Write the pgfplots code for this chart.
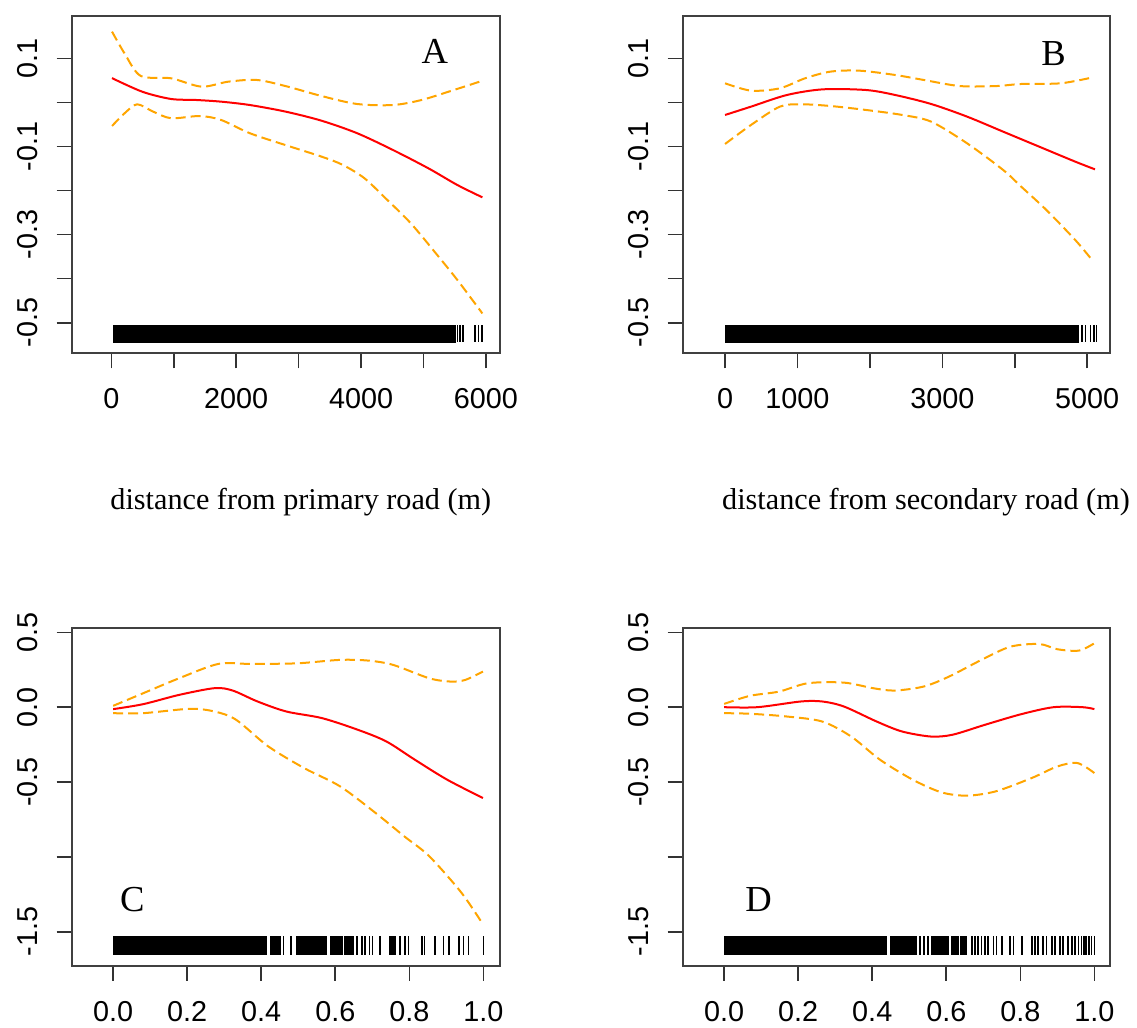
\documentclass[border=0pt]{standalone}
\usepackage{fontspec}
\setmainfont{Liberation Sans}
\newfontfamily\seriffont{Liberation Serif}
\usepackage{pgfplots}
\pgfplotsset{compat=1.18}

\definecolor{fitred}{RGB}{255,0,0}
\definecolor{bandor}{RGB}{255,165,0}

\tikzset{letter/.style={font=\seriffont\fontsize{18.3}{20}\selectfont}}

\pgfplotsset{
  gampanel/.style={
    scale only axis,
    axis line style={black!75, line width=0.9pt},
    tick align=outside,
    major tick length=7.5pt,
    tick style={black!80, line width=0.8pt},
    xtick pos=left, ytick pos=left,
    tick label style={font=\fontsize{14.4}{16}\selectfont},
    xticklabel style={anchor=north, inner sep=0pt},
    yticklabel style={rotate=90, anchor=south, inner sep=0pt},
    xticklabel shift=10pt,
    yticklabel shift=9.2pt,
    xlabel style={font=\seriffont\fontsize{15.1}{18}\selectfont, anchor=center},
  },
  fit/.style={fitred, line width=1pt, smooth},
  band/.style={bandor, line width=1pt, dash pattern=on 5pt off 2.5pt, smooth},
  rugA/.style={only marks, mark=|, mark size=4.2pt, mark options={black, line width=0.8pt}},
  rugC/.style={only marks, mark=|, mark size=4.6pt, mark options={black, line width=0.8pt}},
  rugblk/.style={fill=black, draw=black, line width=0.4pt},
}

\begin{document}
\begin{tikzpicture}
\path[use as bounding box] (0,0) rectangle (568.5pt,514pt);

% A: primary road
\begin{axis}[gampanel,
  at={(35.85pt,337.35pt)}, anchor=south west,
  width=214.15pt, height=168.8pt,
  xmin=-635, xmax=6225, ymin=-0.5694, ymax=0.1967,
  xtick={0,1000,2000,3000,4000,5000,6000},
  xticklabels={0,,2000,,4000,,6000},
  ytick={-0.5,-0.4,-0.3,-0.2,-0.1,0,0.1},
  yticklabels={-0.5,,-0.3,,-0.1,,0.1},
  xlabel={distance from primary road (m)},
  xlabel style={at={(axis description cs:0.535,-0.4405)}},
]
\addplot[band] coordinates {
  (11,0.1605) (212,0.111) (470,0.060) (957,0.0546) (1444,0.0357) (1874,0.047)
  (2332,0.0508) (2791,0.037) (3364,0.0145) (3937,-0.0037) (4510,-0.006)
  (4968,0.0054) (5484,0.028) (5943,0.049)
};
\addplot[band] coordinates {
  (11,-0.0536) (212,-0.0248) (413,-0.0044) (670,-0.021) (957,-0.036) (1415,-0.031)
  (1759,-0.040) (2218,-0.070) (2791,-0.097) (3364,-0.123) (3708,-0.142)
  (4052,-0.172) (4395,-0.218) (4797,-0.2745) (5198,-0.3426) (5542,-0.403) (5943,-0.479)
};
\addplot[fit] coordinates {
  (11,0.055) (499,0.024) (957,0.0077) (1358,0.0054) (1759,0.0016) (2218,-0.006)
  (2791,-0.021) (3364,-0.0415) (3937,-0.070) (4510,-0.108) (5083,-0.150)
  (5542,-0.1875) (5943,-0.2155)
};
\addplot[rugblk] coordinates {(30,-0.5058) (5509,-0.5058) (5509,-0.5437) (30,-0.5437)} -- cycle;
\addplot[rugA] coordinates {
  (5546,-0.5248) (5589,-0.5248) (5632,-0.5248) (5829,-0.5248) (5882,-0.5248) (5936,-0.5248)
};
\node[letter] at (axis cs:5182,0.115) {A};
\end{axis}

% B: secondary road
\begin{axis}[gampanel,
  at={(341.35pt,337.35pt)}, anchor=south west,
  width=213.8pt, height=168.8pt,
  xmin=-585, xmax=5320, ymin=-0.5694, ymax=0.1967,
  xtick={0,1000,2000,3000,4000,5000},
  xticklabels={0,1000,,3000,,5000},
  ytick={-0.5,-0.4,-0.3,-0.2,-0.1,0,0.1},
  yticklabels={-0.5,,-0.3,,-0.1,,0.1},
  xlabel={distance from secondary road (m)},
  xlabel style={at={(axis description cs:0.569,-0.4405)}},
]
\addplot[band] coordinates {
  (0,0.0433) (358,0.0266) (756,0.0319) (1104,0.0546) (1453,0.0697) (1851,0.072)
  (2348,0.0622) (2746,0.0508) (3244,0.037) (3741,0.037) (4090,0.0417)
  (4637,0.0433) (5085,0.057)
};
\addplot[band] coordinates {
  (0,-0.0944) (358,-0.0513) (756,-0.0097) (1055,-0.0044) (1453,-0.0082)
  (1950,-0.0173) (2448,-0.0286) (2846,-0.0438) (3343,-0.093) (3841,-0.1535)
  (4090,-0.1913) (4438,-0.2443) (4836,-0.3123) (5060,-0.356)
};
\addplot[fit] coordinates {
  (0,-0.0286) (358,-0.0097) (856,0.0168) (1353,0.0296) (1950,0.028) (2348,0.0168)
  (2846,-0.0037) (3343,-0.0324) (3841,-0.0665) (4338,-0.1005) (4836,-0.1345) (5109,-0.152)
};
\addplot[rugblk] coordinates {(0,-0.5058) (4885,-0.5058) (4885,-0.5437) (0,-0.5437)} -- cycle;
\addplot[rugA] coordinates {
  (4931,-0.5248) (4976,-0.5248) (5046,-0.5248) (5093,-0.5248) (5129,-0.5248)
};
\node[letter] at (axis cs:4538,0.111) {B};
\end{axis}

% C
\begin{axis}[gampanel,
  at={(35.85pt,31pt)}, anchor=south west,
  width=214.15pt, height=168.85pt,
  xmin=-0.112, xmax=1.045, ymin=-1.729, ymax=0.527,
  xtick={0,0.2,0.4,0.6,0.8,1},
  xticklabels={0.0,0.2,0.4,0.6,0.8,1.0},
  ytick={-1.5,-1,-0.5,0,0.5},
  yticklabels={-1.5,,-0.5,0.0,0.5},
]
\addplot[band] coordinates {
  (0,0.009) (0.081,0.093) (0.178,0.193) (0.284,0.289) (0.371,0.289) (0.497,0.293)
  (0.613,0.316) (0.690,0.311) (0.757,0.282) (0.854,0.193) (0.912,0.171)
  (0.951,0.182) (0.999,0.238)
};
\addplot[band] coordinates {
  (0,-0.04) (0.081,-0.04) (0.207,-0.011) (0.274,-0.029) (0.332,-0.084) (0.419,-0.262)
  (0.516,-0.407) (0.613,-0.529) (0.709,-0.707) (0.786,-0.862) (0.854,-0.996)
  (0.941,-1.24) (0.999,-1.451)
};
\addplot[fit] coordinates {
  (0,-0.013) (0.081,0.02) (0.178,0.082) (0.274,0.127) (0.323,0.111) (0.390,0.038)
  (0.468,-0.029) (0.564,-0.073) (0.661,-0.151) (0.738,-0.229) (0.815,-0.351)
  (0.902,-0.484) (0.999,-0.607)
};
\addplot[rugblk] coordinates {(0,-1.530) (0.415,-1.530) (0.415,-1.652) (0,-1.652)} -- cycle;
\addplot[rugblk] coordinates {(0.424,-1.530) (0.446,-1.530) (0.446,-1.652) (0.424,-1.652)} -- cycle;
\addplot[rugblk] coordinates {(0.494,-1.530) (0.575,-1.530) (0.575,-1.652) (0.494,-1.652)} -- cycle;
\addplot[rugblk] coordinates {(0.588,-1.530) (0.620,-1.530) (0.620,-1.652) (0.588,-1.652)} -- cycle;
\addplot[rugblk] coordinates {(0.626,-1.530) (0.649,-1.530) (0.649,-1.652) (0.626,-1.652)} -- cycle;
\addplot[rugblk] coordinates {(0.745,-1.530) (0.762,-1.530) (0.762,-1.652) (0.745,-1.652)} -- cycle;
\addplot[rugC] coordinates {
  (0.451,-1.591) (0.460,-1.591) (0.4805,-1.591) (0.658,-1.591) (0.672,-1.591)
  (0.681,-1.591) (0.692,-1.591) (0.701,-1.591) (0.721,-1.591) (0.775,-1.591)
  (0.789,-1.591) (0.798,-1.591) (0.834,-1.591) (0.841,-1.591) (0.870,-1.591)
  (0.892,-1.591) (0.908,-1.591) (0.935,-1.591) (0.946,-1.591) (0.960,-1.591) (1.0,-1.591)
};
\node[letter] at (axis cs:0.052,-1.286) {C};
\end{axis}

% D
\begin{axis}[gampanel,
  at={(341.35pt,31pt)}, anchor=south west,
  width=213.8pt, height=168.85pt,
  xmin=-0.112, xmax=1.043, ymin=-1.729, ymax=0.527,
  xtick={0,0.2,0.4,0.6,0.8,1},
  xticklabels={0.0,0.2,0.4,0.6,0.8,1.0},
  ytick={-1.5,-1,-0.5,0,0.5},
  yticklabels={-1.5,,-0.5,0.0,0.5},
]
\addplot[band] coordinates {
  (0,0.022) (0.07,0.076) (0.148,0.104) (0.226,0.16) (0.324,0.164) (0.402,0.127)
  (0.46,0.111) (0.539,0.138) (0.607,0.204) (0.695,0.316) (0.773,0.404)
  (0.851,0.422) (0.9,0.387) (0.958,0.378) (1.0,0.427)
};
\addplot[band] coordinates {
  (0,-0.04) (0.07,-0.044) (0.168,-0.062) (0.265,-0.096) (0.343,-0.196) (0.421,-0.351)
  (0.509,-0.484) (0.587,-0.569) (0.656,-0.591) (0.734,-0.562) (0.831,-0.473)
  (0.9,-0.396) (0.954,-0.373) (1.0,-0.44)
};
\addplot[fit] coordinates {
  (0,0) (0.09,0) (0.207,0.038) (0.265,0.038) (0.324,0.004) (0.412,-0.096)
  (0.48,-0.162) (0.558,-0.196) (0.617,-0.184) (0.704,-0.118) (0.802,-0.047)
  (0.89,0) (0.968,0) (1.0,-0.013)
};
\addplot[rugblk] coordinates {(0,-1.530) (0.439,-1.530) (0.439,-1.652) (0,-1.652)} -- cycle;
\addplot[rugblk] coordinates {(0.448,-1.530) (0.520,-1.530) (0.520,-1.652) (0.448,-1.652)} -- cycle;
\addplot[rugblk] coordinates {(0.565,-1.530) (0.605,-1.530) (0.605,-1.652) (0.565,-1.652)} -- cycle;
\addplot[rugblk] coordinates {(0.615,-1.530) (0.632,-1.530) (0.632,-1.652) (0.615,-1.652)} -- cycle;
\addplot[rugblk] coordinates {(0.637,-1.530) (0.655,-1.530) (0.655,-1.652) (0.637,-1.652)} -- cycle;
\addplot[rugC] coordinates {
  (0.529,-1.591) (0.540,-1.591) (0.551,-1.591) (0.561,-1.591) (0.669,-1.591)
  (0.677,-1.591) (0.686,-1.591) (0.695,-1.591) (0.704,-1.591) (0.713,-1.591)
  (0.727,-1.591) (0.736,-1.591) (0.750,-1.591) (0.772,-1.591) (0.781,-1.591)
  (0.804,-1.591) (0.831,-1.591) (0.840,-1.591) (0.848,-1.591) (0.862,-1.591)
  (0.871,-1.591) (0.885,-1.591) (0.894,-1.591) (0.907,-1.591) (0.916,-1.591)
  (0.929,-1.591) (0.939,-1.591) (0.948,-1.591) (0.957,-1.591) (0.965,-1.591)
  (0.972,-1.591) (0.978,-1.591) (0.985,-1.591) (0.992,-1.591) (1.0,-1.591)
};
\node[letter] at (axis cs:0.093,-1.286) {D};
\end{axis}
\end{tikzpicture}
\end{document}
